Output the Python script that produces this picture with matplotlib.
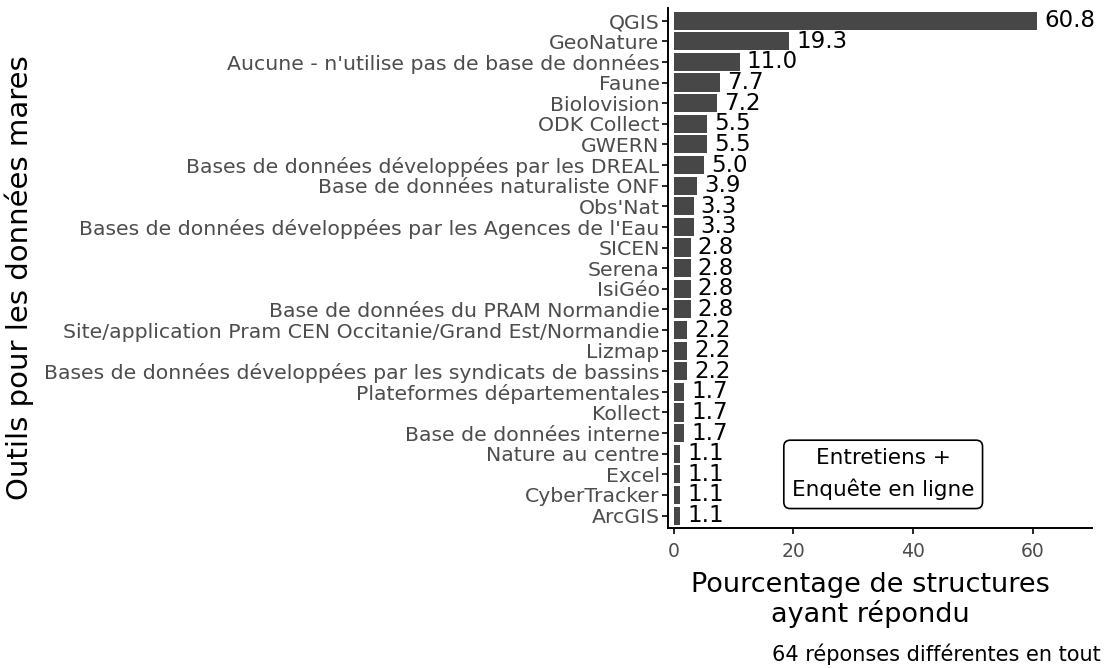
import numpy as np
import matplotlib
matplotlib.use("Agg")
import matplotlib.pyplot as plt

plt.rcParams['font.family'] = ['DejaVu Sans']

# ---------- data (top to bottom as in the chart) ----------
outils = [
    "QGIS", "GeoNature", "Aucune - n'utilise pas de base de données", "Faune",
    "Biolovision", "ODK Collect", "GWERN",
    "Bases de données développées par les DREAL",
    "Base de données naturaliste ONF", "Obs'Nat",
    "Bases de données développées par les Agences de l'Eau",
    "SICEN", "Serena", "IsiGéo", "Base de données du PRAM Normandie",
    "Site/application Pram CEN Occitanie/Grand Est/Normandie", "Lizmap",
    "Bases de données développées par les syndicats de bassins",
    "Plateformes départementales", "Kollect", "Base de données interne",
    "Nature au centre", "Excel", "CyberTracker", "ArcGIS",
]
pourcentages = [60.8, 19.3, 11.0, 7.7, 7.2, 5.5, 5.5, 5.0, 3.9, 3.3, 3.3,
                2.8, 2.8, 2.8, 2.8, 2.2, 2.2, 2.2, 1.7, 1.7, 1.7,
                1.1, 1.1, 1.1, 1.1]

n = len(outils)
ypos = np.arange(n)[::-1]  # first item at top

fig = plt.figure(figsize=(11.04, 6.68), dpi=100)
ax = fig.add_axes([0.605, 0.2096, 0.384, 0.778])

ax.barh(ypos, pourcentages, height=0.88, color='#474747')
for y, v in zip(ypos, pourcentages):
    ax.text(v + 1.2, y, f"{v:.1f}", va='center', ha='left', fontsize=16.5, color='black')

ax.set_xlim(-1.0, 69.9)
ax.set_ylim(-0.6, n - 0.4)
ax.set_yticks(ypos)
ax.set_yticklabels(outils, fontsize=14.7, color='#4d4d4d')
ax.set_xticks([0, 20, 40, 60])
ax.tick_params(axis='x', labelsize=13.5, labelcolor='#4d4d4d', length=4, width=1.2, pad=6)
ax.tick_params(axis='y', length=4, width=1.2, pad=2)

for side in ['top', 'right']:
    ax.spines[side].set_visible(False)
for side in ['left', 'bottom']:
    ax.spines[side].set_linewidth(1.4)

fig.text(0.788, 0.06, "Pourcentage de structures\nayant répondu", ha='center',
         va='bottom', fontsize=19.5, linespacing=1.1)
fig.text(0.017, 0.585, "Outils pour les données mares", rotation=90,
         ha='center', va='center', fontsize=21)

ax.text(35, 2.0, "Entretiens +\nEnquête en ligne", ha='center', va='center',
        fontsize=15.5, linespacing=1.6,
        bbox=dict(boxstyle='round,pad=0.38,rounding_size=0.3', fc='white',
                  ec='black', lw=1.2))

fig.text(0.997, 0.02, "64 réponses différentes en tout", ha='right', va='center',
         fontsize=15)

plt.savefig("out.png", dpi=100)
plt.close()
